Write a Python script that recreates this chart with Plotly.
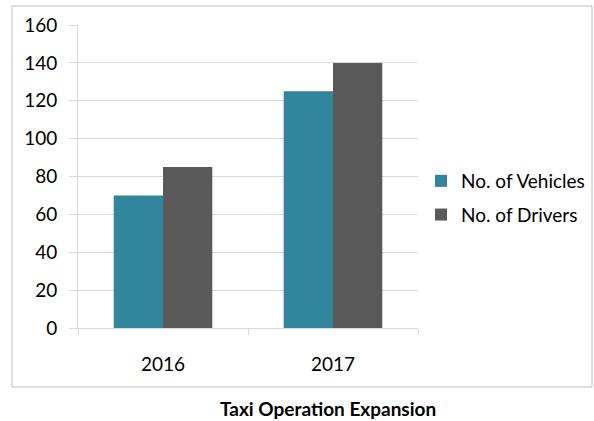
import plotly.graph_objects as go

years = ["2016", "2017"]
vehicles = [70, 125]
drivers = [85, 140]
y_ticks = [0, 20, 40, 60, 80, 100, 120, 140, 160]

W, H = 594, 421
L, R, T, B = 78, 418, 25, 328  # plot area in reference pixels
pw, ph = R - L, B - T

def px(x):
    return (x - L) / pw

def py(y):
    return (B - y) / ph

fig = go.Figure()
fig.add_trace(go.Bar(x=years, y=vehicles, name="No. of Vehicles", marker_color="#31859C",
                     marker_line_width=0, legendgroup="a"))
fig.add_trace(go.Bar(x=years, y=drivers, name="No. of Drivers", marker_color="#595959",
                     marker_line_width=0, legendgroup="b"))

font = "Lato, 'Open Sans', sans-serif"
fig.update_layout(
    width=W, height=H,
    margin=dict(l=L, r=W - R, t=T, b=H - B, pad=0, autoexpand=False),
    paper_bgcolor="white", plot_bgcolor="white",
    barmode="group", bargap=0.42, bargroupgap=0,
    font=dict(family=font, size=19, color="#000000"),
    legend=dict(x=px(421), y=py(198), xanchor="left", yanchor="middle",
                font=dict(size=19), itemwidth=30, traceorder="grouped", tracegroupgap=6,
                bgcolor="rgba(0,0,0,0)"),
    xaxis=dict(showline=True, linecolor="#D9D9D9", linewidth=1,
               ticks="outside", tickson="boundaries", ticklen=6, tickcolor="#D9D9D9",
               tickfont=dict(size=19), showgrid=False, ticklabelstandoff=19,
               automargin=False),
    yaxis=dict(range=[0, 160], tickvals=y_ticks, showline=True, linecolor="#D9D9D9",
               ticks="outside", ticklen=8, tickcolor="#D9D9D9",
               gridcolor="#D9D9D9", gridwidth=1, zeroline=False,
               tickfont=dict(size=19), ticklabelstandoff=8, automargin=False),
    shapes=[dict(type="rect", xref="paper", yref="paper",
                 x0=px(12), x1=px(592), y0=py(387), y1=py(6),
                 line=dict(color="#BFBFBF", width=1), fillcolor="rgba(0,0,0,0)", layer="below")],
    annotations=[dict(text="<b>Taxi Operation Expansion</b>", xref="paper", yref="paper",
                      x=px(328), y=py(408), xanchor="center", yanchor="middle",
                      showarrow=False, font=dict(size=19, family=font))],
    showlegend=True,
)

fig.write_html("out.html", config={"displayModeBar": False},
               post_script="document.body.style.margin='0px';document.body.style.overflow='hidden';")
